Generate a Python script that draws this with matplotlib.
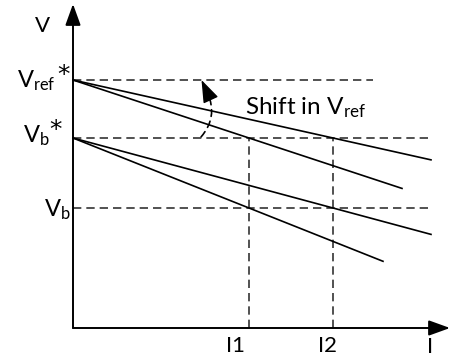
import matplotlib
matplotlib.use("Agg")
import matplotlib.pyplot as plt
from matplotlib.patches import FancyArrowPatch

plt.rcParams['font.family'] = ['Lato', 'DejaVu Sans']
plt.rcParams['mathtext.fontset'] = 'custom'
plt.rcParams['mathtext.rm'] = 'Lato'
plt.rcParams['mathtext.it'] = 'Lato:italic'

# Voltage levels (V axis) and currents (I axis)
v_ref_star = 248
v_b_star = 190
v_b = 120
i1 = 176
i2 = 260

# Droop lines: start voltage, point each line passes through, and end current
line_start = [v_ref_star, v_ref_star, v_b_star, v_b_star]
line_pass_i = [i2, i1, i2, i1]
line_pass_v = [v_b_star, v_b_star, v_b, v_b]
line_end_i = [358, 329, 358, 310]

# Horizontal guide lines: level and right end
guide_levels = [v_ref_star, v_b_star, v_b]
guide_ends = [300, 360, 360]

fig = plt.figure(figsize=(4.5, 3.56), dpi=100)
ax = fig.add_axes([0, 0, 1, 1])
ax.set_xlim(-73, 377)
ax.set_ylim(-28, 328)
ax.axis('off')

dash = (0, (5, 3))
lw_dash = 1.2

for lev, end in zip(guide_levels, guide_ends):
    ax.plot([0, end], [lev, lev], color='#333333', lw=lw_dash, linestyle=dash)

for xi in (i1, i2):
    ax.plot([xi, xi], [0, v_b_star], color='#333333', lw=lw_dash, linestyle=dash)

for v0, pi, pv, xe in zip(line_start, line_pass_i, line_pass_v, line_end_i):
    slope = (pv - v0) / pi
    ax.plot([0, xe], [v0, v0 + slope * xe], color='black', lw=1.2)

# Axes with arrowheads
head = '-|>,head_length=1.3,head_width=0.47'
ax.annotate('', xy=(0, 324), xytext=(0, 0),
            arrowprops=dict(arrowstyle=head, color='black', lw=1.4,
                            shrinkA=0, shrinkB=0))
ax.annotate('', xy=(377, 0), xytext=(0, 0),
            arrowprops=dict(arrowstyle=head, color='black', lw=1.4,
                            shrinkA=0, shrinkB=0))

# Curved dashed arrow indicating the reference shift
arc_start = (128, 191)
head_base = (134.5, 235)
head_tip = (128.5, 248)
arc = FancyArrowPatch(arc_start, head_base, connectionstyle='arc3,rad=0.32',
                      arrowstyle='-', color='black', lw=1.2,
                      linestyle=(0, (4, 3)), shrinkA=0, shrinkB=0)
ax.add_patch(arc)
tip = FancyArrowPatch(head_base, head_tip, arrowstyle='-|>,head_length=14,head_width=5',
                      color='black', lw=1.0, shrinkA=0, shrinkB=0)
ax.add_patch(tip)

fs = 16
star = dict(fontsize=18, family='DejaVu Sans', ha='center', va='center')
ax.text(-38, 296, 'V', fontsize=fs, ha='left', va='baseline')
ax.text(-56, 241, r'$\mathrm{V}_{\mathrm{ref}}$', fontsize=17, ha='left', va='baseline')
ax.text(-10, 253, '*', **star)
ax.text(-50, 186, r'$\mathrm{V}_{\mathrm{b}}$', fontsize=17, ha='left', va='baseline')
ax.text(-17, 198, '*', **star)
ax.text(-29, 112, r'$\mathrm{V}_{\mathrm{b}}$', fontsize=17, ha='left', va='baseline')
ax.text(172, 214, r'Shift in $\mathrm{V}_{\mathrm{ref}}$', fontsize=17.5,
        ha='left', va='baseline')
ax.text(i1 - 13, -24, 'I1', fontsize=fs, ha='center', va='baseline')
ax.text(i2 - 6, -24, 'I2', fontsize=fs, ha='center', va='baseline')
ax.text(357, -25, 'I', fontsize=fs, ha='center', va='baseline')

fig.savefig('out.png', dpi=100)
